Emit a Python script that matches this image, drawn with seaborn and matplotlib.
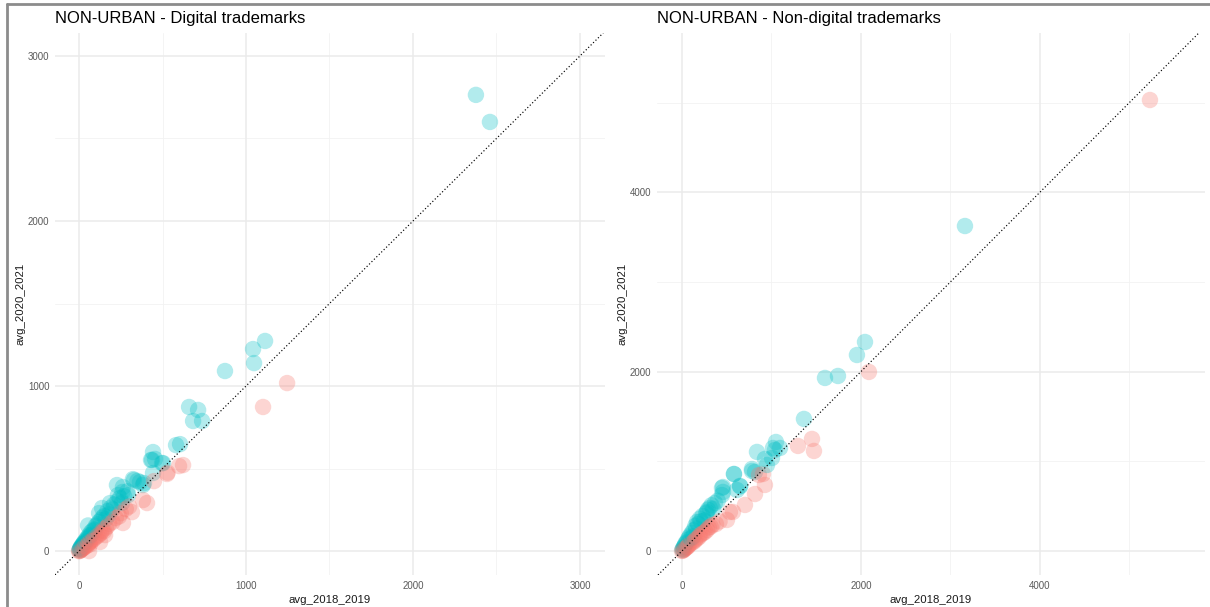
import numpy as np
import pandas as pd
import matplotlib
matplotlib.use("Agg")
import matplotlib.pyplot as plt
from matplotlib.lines import Line2D
import seaborn as sns

# Non-urban areas, digital trademarks: yearly averages per area
digital_2018_2019 = [
    0, 2, 3, 5, 5, 8, 8, 10, 12, 12, 15, 15, 18, 20, 20, 25, 25, 28, 30, 30, 35, 35,
    40, 40, 45, 50, 50, 55, 55, 60, 60, 65, 65, 70, 70, 75, 80, 80, 90, 90, 95, 100,
    100, 110, 110, 120, 120, 126, 130, 130, 138, 140, 140, 150, 150, 156, 160, 160,
    170, 170, 180, 180, 186, 190, 200, 200, 210, 220, 227, 230, 233, 240, 245, 250,
    257, 260, 263, 263, 270, 280, 290, 293, 300, 317, 323, 329, 350, 365, 383, 383,
    389, 407, 431, 437, 443, 443, 449, 455, 497, 503, 527, 530, 581, 599, 605, 623,
    659, 683, 713, 737, 874, 1042, 1048, 1102, 1114, 1246, 2377, 2461, 54, 120, 60,
]
digital_2020_2021 = [
    0, 0, 6, 2, 12, 5, 16, 22, 8, 20, 10, 30, 26, 14, 36, 18, 42, 50, 22, 46, 30, 60,
    28, 56, 72, 35, 82, 45, 76, 50, 96, 40, 90, 60, 112, 100, 65, 122, 75, 132, 128, 85,
    152, 90, 162, 100, 176, 55, 110, 188, 261, 125, 202, 120, 212, 97, 140, 195, 150,
    242, 165, 222, 291, 262, 175, 252, 282, 200, 400, 302, 339, 210, 321, 230, 292,
    358, 170, 388, 332, 255, 362, 339, 270, 236, 436, 430, 425, 418, 400, 309, 412,
    291, 552, 552, 600, 473, 424, 558, 533, 533, 467, 475, 642, 515, 648, 521, 873,
    788, 855, 788, 1091, 1224, 1139, 873, 1273, 1018, 2764, 2600, 155, 230, 0,
]

# Non-urban areas, non-digital trademarks
nondigital_2018_2019 = [
    0, 5, 8, 10, 15, 20, 20, 25, 30, 35, 40, 40, 50, 55, 60, 65, 70, 80, 80, 90, 100,
    100, 110, 120, 125, 130, 140, 150, 150, 160, 168, 170, 180, 190, 200, 200, 210,
    220, 230, 240, 250, 260, 270, 279, 280, 290, 300, 310, 320, 330, 340, 350, 369,
    380, 400, 420, 447, 447, 458, 458, 503, 536, 570, 581, 581, 614, 648, 650, 704,
    782, 782, 816, 816, 838, 860, 905, 927, 927, 950, 1006, 1017, 1039, 1050, 1095,
    1296, 1363, 1453, 1475, 1598, 1743, 1955, 2045, 2089, 3162, 5229,
]
nondigital_2020_2021 = [
    0, 12, 2, 25, 10, 40, 14, 50, 22, 70, 30, 85, 40, 100, 45, 125, 55, 150, 70, 170,
    85, 140, 200, 95, 160, 230, 110, 280, 125, 250, 323, 140, 300, 155, 360, 175, 330,
    190, 390, 200, 340, 215, 420, 435, 235, 460, 260, 480, 270, 510, 290, 470, 535,
    300, 560, 330, 702, 624, 713, 658, 346, 435, 435, 858, 858, 680, 725, 720, 513,
    892, 914, 881, 635, 1104, 847, 858, 736, 1026, 959, 1037, 1148, 1126, 1215, 1148,
    1171, 1472, 1249, 1115, 1929, 1951, 2185, 2330, 1996, 3623, 5028,
]

panels = [
    ("NON-URBAN - Digital trademarks", digital_2018_2019, digital_2020_2021,
     [0, 1000, 2000, 3000], [500, 1500, 2500], (-144, 3150), (-145, 3139)),
    ("NON-URBAN - Non-digital trademarks", nondigital_2018_2019, nondigital_2020_2021,
     [0, 2000, 4000], [1000, 3000, 5000], (-279, 5844), (-268, 5775)),
]

palette = {"down": "#F8766D", "up": "#00BFC4"}

sns.set_theme(style="white")
plt.rcParams["font.family"] = ["Liberation Sans", "DejaVu Sans"]

fig = plt.figure(figsize=(12.10, 6.07), dpi=100)
axes_rects = [
    [55 / 1210, 32 / 607, 550 / 1210, 542 / 607],
    [657 / 1210, 32 / 607, 548 / 1210, 542 / 607],
]

for rect, (title, x, y, major, minor, xlim, ylim) in zip(axes_rects, panels):
    ax = fig.add_axes(rect)
    df = pd.DataFrame({"avg_2018_2019": x, "avg_2020_2021": y})
    df["trend"] = np.where(df["avg_2020_2021"] > df["avg_2018_2019"], "up", "down")

    for v in minor:
        ax.axvline(v, color="#F2F2F2", lw=0.6, zorder=0)
        ax.axhline(v, color="#F2F2F2", lw=0.6, zorder=0)
    for v in major:
        ax.axvline(v, color="#EBEBEB", lw=1.1, zorder=0)
        ax.axhline(v, color="#EBEBEB", lw=1.1, zorder=0)

    sns.scatterplot(data=df, x="avg_2018_2019", y="avg_2020_2021", hue="trend",
                    palette=palette, s=140, alpha=0.3, edgecolor="none",
                    legend=False, ax=ax, zorder=2)
    ax.axline((0, 0), slope=1, color="black", lw=0.85, ls=(0, (1, 1.9)), zorder=3)

    ax.set_xlim(*xlim)
    ax.set_ylim(*ylim)
    ax.set_xticks(major)
    ax.set_yticks(major)
    ax.tick_params(axis="both", labelsize=7, labelcolor="#5A5A5A", length=0, pad=4)
    for s in ax.spines.values():
        s.set_visible(False)
    ax.grid(False)
    ax.set_xlabel("avg_2018_2019", fontsize=8.2, color="#1A1A1A", labelpad=3)
    ax.set_ylabel("avg_2020_2021", fontsize=8.2, color="#1A1A1A", labelpad=2)
    ax.set_title(title, loc="left", fontsize=12, color="black", pad=7)

# frame edges along the top and left
fig.add_artist(Line2D([7 / 1210, 7 / 1210], [0, 1 - 4 / 607], transform=fig.transFigure,
                      color="#8C8C8C", lw=2))
fig.add_artist(Line2D([7 / 1210, 1], [1 - 4 / 607, 1 - 4 / 607], transform=fig.transFigure,
                      color="#8C8C8C", lw=2))

fig.savefig("out.png", dpi=100, facecolor="white")
